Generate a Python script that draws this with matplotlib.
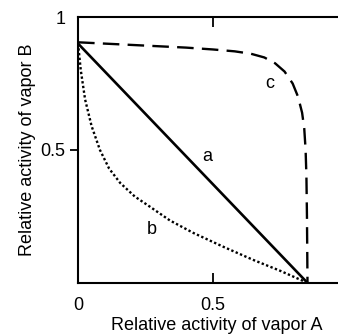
import matplotlib
matplotlib.use("Agg")
import matplotlib.pyplot as plt

plt.rcParams['font.family'] = ['Liberation Sans', 'DejaVu Sans']

# curve a: ideal straight line
a_x = [0.0, 0.85]
a_y = [0.9, 0.0]

# curve b: dotted, bowed toward origin
b_x = [0.0, 0.01, 0.026, 0.05, 0.081, 0.115, 0.156, 0.21, 0.267, 0.34, 0.427, 0.54, 0.65, 0.75, 0.85]
b_y = [0.9, 0.8, 0.69, 0.59, 0.5, 0.43, 0.376, 0.325, 0.286, 0.235, 0.188, 0.135, 0.086, 0.045, 0.0]

# curve c: dashed, bowed away from origin
c_x = [0.0, 0.1, 0.2, 0.3, 0.4, 0.5, 0.58, 0.64, 0.69, 0.73, 0.765, 0.795, 0.815, 0.83, 0.838, 0.843, 0.846, 0.848, 0.85]
c_y = [0.905, 0.9, 0.895, 0.89, 0.885, 0.878, 0.871, 0.862, 0.848, 0.826, 0.795, 0.75, 0.70, 0.64, 0.58, 0.5, 0.4, 0.25, 0.0]

labels = ['a', 'b', 'c']
label_pos = [(0.477, 0.474), (0.274, 0.20), (0.71, 0.75)]

fig = plt.figure(figsize=(3.38, 3.34), dpi=100)
ax = fig.add_axes([0.231, 0.153, 0.769, 0.796])

ax.plot(a_x, a_y, color='black', lw=1.9, solid_capstyle='butt')
ax.plot(b_x, b_y, color='black', lw=1.7, linestyle=(0, (1, 1.0)))
ax.plot(c_x, c_y, color='black', lw=1.7, linestyle=(0, (7, 3.5)))

for t, (x, y) in zip(labels, label_pos):
    ax.text(x, y, t, fontsize=13, ha='center', va='center')

ax.set_xlim(0, 0.963)
ax.set_ylim(0, 1)
ax.set_xticks([0, 0.5])
ax.set_xticklabels(['0', '0.5'])
ax.set_yticks([0.5, 1])
ax.set_yticklabels(['0.5', '1'])
ax.tick_params(axis='x', direction='in', length=7, width=1.3, labelsize=13, pad=10, top=True)
ax.tick_params(axis='y', direction='out', length=6, width=1.3, labelsize=13, pad=3)
ax.yaxis.get_major_ticks()[1].tick1line.set_visible(False)
ax.spines['right'].set_visible(False)
for s in ['left', 'bottom', 'top']:
    ax.spines[s].set_linewidth(1.5)

ax.set_xlabel('Relative activity of vapor A', fontsize=13)
ax.set_ylabel('Relative activity of vapor B', fontsize=13)
ax.xaxis.set_label_coords(0.535, -0.13)
ax.yaxis.set_label_coords(-0.16, 0.5)

fig.savefig('out.png', dpi=100)
